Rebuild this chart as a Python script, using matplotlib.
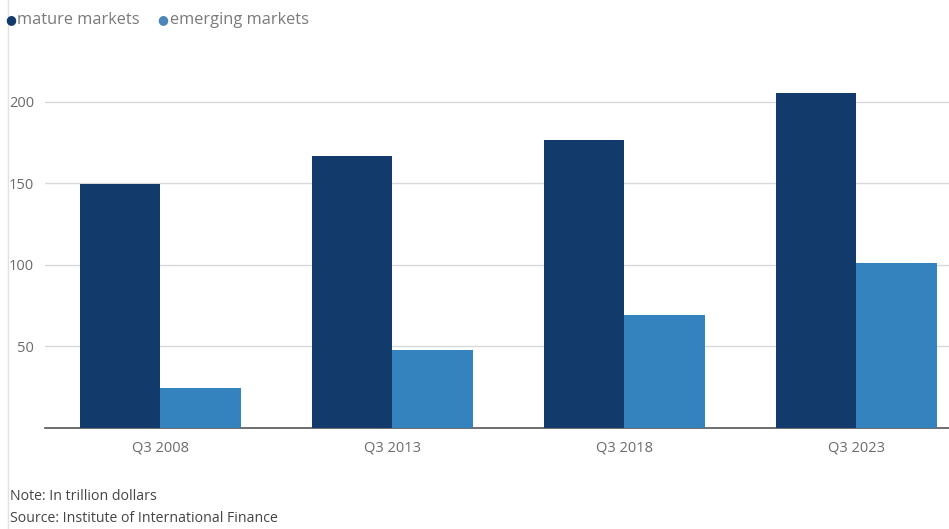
import numpy as np
import matplotlib.pyplot as plt
from matplotlib.lines import Line2D

plt.rcParams['font.family'] = ['Open Sans', 'DejaVu Sans']

quarters = ['Q3 2008', 'Q3 2013', 'Q3 2018', 'Q3 2023']
mature = [149.5, 166.5, 176.5, 205.5]
emerging = [24.5, 47.5, 69, 101]
yticks = [50, 100, 150, 200]

navy = '#123b6c'
blue = '#3483bf'
grey_txt = '#6b6b6b'

fig = plt.figure(figsize=(9.49, 5.29), dpi=100)
ax = fig.add_axes([45 / 949, 1 - 428 / 529, 904 / 949, 378 / 529])

x = np.arange(len(quarters))
w = 0.347
ax.bar(x - w / 2, mature, width=w, color=navy, zorder=3)
ax.bar(x + w / 2, emerging, width=w, color=blue, zorder=3)

ax.set_xlim(-0.496, 3.40)
ax.set_ylim(0, 231.6)
ax.set_yticks(yticks)
ax.set_xticks(x)
ax.set_xticklabels(quarters)
ax.grid(axis='y', color='#d9d9d9', linewidth=1, zorder=0)
for s in ['top', 'right', 'left']:
    ax.spines[s].set_visible(False)
ax.spines['bottom'].set_color('#555555')
ax.spines['bottom'].set_linewidth(1.2)
ax.tick_params(axis='both', length=0, labelsize=10.5, labelcolor=grey_txt)
ax.tick_params(axis='x', pad=9)
ax.tick_params(axis='y', pad=8)
for lbl in ax.get_yticklabels():
    lbl.set_horizontalalignment('right')

# thin rule along the left edge of the graphic
fig.add_artist(Line2D([8 / 949, 8 / 949], [0, 1], color='#e2e2e2', linewidth=1))

# legend row
fig.text(11 / 949, 1 - 20 / 529, '\u25cf', color=navy, fontsize=9, ha='center', va='center')
fig.text(17 / 949, 1 - 20 / 529, 'mature markets', color='#7a7a7a', fontsize=11.8, va='center')
fig.text(163 / 949, 1 - 20 / 529, '\u25cf', color='#4a86b8', fontsize=9, ha='center', va='center')
fig.text(170 / 949, 1 - 20 / 529, 'emerging markets', color='#7a7a7a', fontsize=11.8, va='center')

fig.text(10 / 949, 1 - 496 / 529, 'Note: In trillion dollars', color='#444444', fontsize=10.2, va='center')
fig.text(10 / 949, 1 - 519 / 529, 'Source: Institute of International Finance', color='#444444',
         fontsize=10.2, va='center')

fig.savefig('out.png', dpi=100, facecolor='white')
